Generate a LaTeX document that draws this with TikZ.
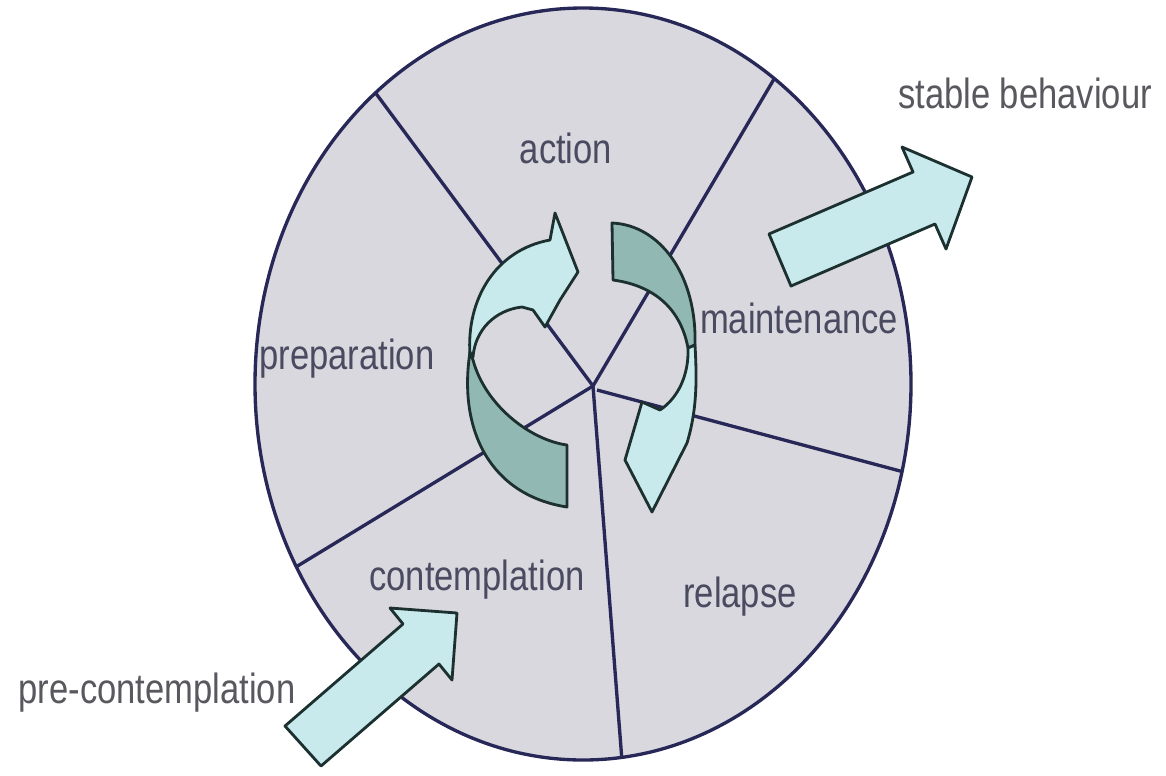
\documentclass[tikz,border=0pt]{standalone}
\usepackage{fontspec}
\setmainfont{Liberation Sans}
\usepackage{xcolor}
\usepackage{tikz}
\definecolor{wheelgray}{RGB}{216,216,222}
\definecolor{spokeblue}{RGB}{40,40,88}
\definecolor{arrowlight}{RGB}{200,234,236}
\definecolor{arrowdark}{RGB}{146,184,180}
\definecolor{arrowedge}{RGB}{28,48,48}
\definecolor{stagetext}{RGB}{74,74,96}
\definecolor{outtext}{RGB}{88,88,94}

\begin{document}
\begin{tikzpicture}[x=0.02cm, y=-0.02cm, line join=round,
    stage/.style={font=\fontsize{24}{28}\selectfont, text=stagetext, xscale=0.82, anchor=base, inner sep=0pt},
    outer/.style={stage, text=outtext},
    spoke/.style={draw=spokeblue, line width=1.9pt},
    lightpart/.style={fill=arrowlight, draw=arrowedge, line width=1.6pt},
    darkpart/.style={fill=arrowdark, draw=arrowedge, line width=1.6pt}]
  \useasboundingbox[fill=white] (0,0) rectangle (1166,775);

  % wheel and spokes
  \coordinate (hub) at (593,386);
  \fill[wheelgray] (583,384) ellipse [x radius=328, y radius=376];
  \begin{scope}
    \clip (583,384) ellipse [x radius=328, y radius=376];
    \draw[spoke] (hub) -- (340,45);
    \draw[spoke] (hub) -- (800,35);
    \draw[spoke] (597,390) -- (960,487);
    \draw[spoke] (hub) -- (625,800);
    \draw[spoke] (hub) -- (245,598);
  \end{scope}
  \draw[spoke] (583,384) ellipse [x radius=328, y radius=376];

  % stage labels
  \node[stage] (action) at (566,163) {action};
  \node[stage] (maint) at (799,333) {maintenance};
  \node[stage] (prep) at (347,369) {preparation};
  \node[stage] (contemp) at (477,590) {contemplation};
  \node[stage] (relapse) at (740,607) {relapse};
  \node[outer] (stable) at (1025,108) {stable behaviour};
  \node[outer] (precon) at (157,703) {pre-contemplation};

  % cycle arrows (left one)
  \draw[lightpart] (470,355) .. controls (466,300) and (495,250) .. (550,240)
    -- (555,213) -- (578,272) -- (560,300) -- (545,327) -- (533,310) -- (522,307)
    .. controls (495,310) and (475,330) .. (473,357) -- cycle;
  \draw[darkpart] (470,352) .. controls (458,430) and (490,495) .. (567,507)
    -- (567,445) .. controls (530,440) and (485,405) .. (473,360) -- cycle;
  % cycle arrows (right one)
  \draw[darkpart] (612,223) .. controls (660,225) and (697,275) .. (695,345)
    -- (688,348) .. controls (680,305) and (650,285) .. (613,280) -- cycle;
  \draw[lightpart] (695,345) .. controls (697,380) and (697,410) .. (687,443)
    -- (652,512) -- (625,460) -- (642,402) -- (660,410)
    .. controls (678,398) and (689,375) .. (688,348) -- cycle;

  % way in and way out
  \draw[lightpart] (285,726) -- (403,624) -- (390,608) -- (457,613)
    -- (452,680) -- (439,664) -- (321,766) -- cycle;
  \draw[lightpart] (769,234) -- (913,172) -- (902,147) -- (972,177)
    -- (946,249) -- (935,224) -- (791,286) -- cycle;
\end{tikzpicture}
\end{document}
